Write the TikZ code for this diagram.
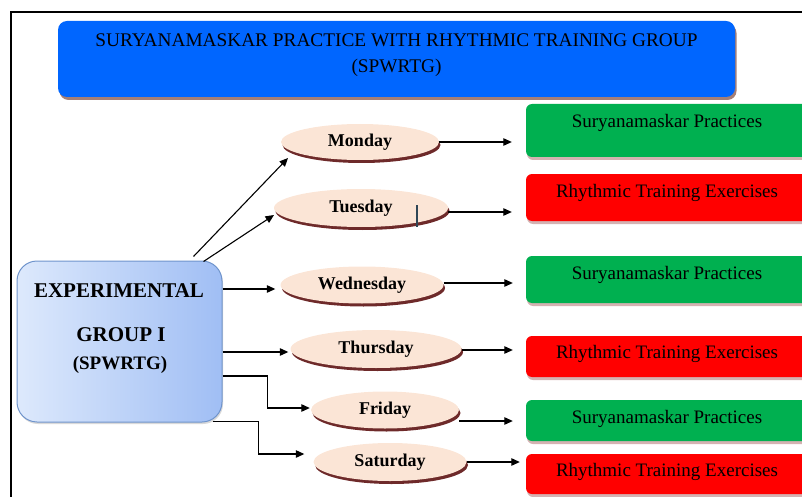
\documentclass[tikz,border=0pt]{standalone}
\usepackage{fontspec}
\setmainfont{Liberation Serif}
\usetikzlibrary{shapes.geometric,arrows.meta,shadows}
\definecolor{bannerblue}{HTML}{0066FF}
\definecolor{bannershadow}{HTML}{A57F76}
\definecolor{boxgreen}{HTML}{00B050}
\definecolor{boxred}{HTML}{FF0000}
\definecolor{boxshadow}{HTML}{D4B2B2}
\definecolor{dayfill}{HTML}{FBE5D6}
\definecolor{dayshadow}{HTML}{6E2A2A}
\definecolor{lboxleft}{HTML}{DDE9FC}
\definecolor{lboxright}{HTML}{A0BEF4}
\definecolor{lboxborder}{HTML}{6F94CC}
\definecolor{strayline}{HTML}{2F4656}
\begin{document}
\begin{tikzpicture}[x=1pt,y=-1pt,
  day/.style={ellipse, fill=dayfill, inner sep=0pt,
    font=\fontsize{18}{20}\selectfont\bfseries,
    drop shadow={shadow xshift=1.5pt, shadow yshift=-3pt, fill=dayshadow, opacity=1}},
  rbox/.style={rectangle, rounded corners=6pt, minimum width=282pt, inner sep=0pt,
    drop shadow={shadow xshift=1pt, shadow yshift=-3pt, fill=boxshadow, opacity=1}},
  gbox/.style={rbox, fill=boxgreen},
  redbox/.style={rbox, fill=boxred},
  boxtext/.style={inner sep=0pt, font=\fontsize{19}{21}\selectfont},
  ltext/.style={inner sep=0pt, font=\fontsize{21}{23}\selectfont\bfseries},
  arr/.style={-{Triangle[length=8.5pt,width=7.5pt]}, line width=1.1pt, black},
]
\useasboundingbox (0,0) rectangle (802,497);

% frame
\draw[line width=2pt] (11,497) -- (11,12) -- (803,12);

% banner
\node[rectangle, rounded corners=9pt, fill=bannerblue, minimum width=677pt, minimum height=76pt,
  drop shadow={shadow xshift=1.5pt, shadow yshift=-3pt, fill=bannershadow, opacity=1}]
  (banner) at (396.5,59) {};
\node[inner sep=0pt, align=center, font=\fontsize{19.3}{26}\selectfont]
  (bannertext) at (396.5,55) {SURYANAMASKAR PRACTICE WITH RHYTHMIC TRAINING GROUP\\(SPWRTG)};

% left box
\node[rectangle, rounded corners=20pt, left color=lboxleft, right color=lboxright,
  draw=lboxborder, line width=1pt, minimum width=205pt, minimum height=161pt,
  drop shadow={shadow xshift=1pt, shadow yshift=-2pt, fill=black, opacity=0.15}]
  (L) at (119.5,341.5) {};
\node[ltext] (l1) at (119,291) {EXPERIMENTAL};
\node[ltext] (l2) at (121,335) {GROUP I};
\node[ltext, font=\fontsize{19}{21}\selectfont\bfseries] (l3) at (120,365) {(SPWRTG)};

% days
\node[day, minimum width=158pt, minimum height=36pt] (mon) at (360,142) {Monday};
\node[day, minimum width=174pt, minimum height=38pt] (tue) at (361,208) {Tuesday};
\node[day, minimum width=163pt, minimum height=37pt] (wed) at (362,285) {Wednesday};
\node[day, minimum width=171pt, minimum height=38pt] (thu) at (376,349) {Thursday};
\node[day, minimum width=148pt, minimum height=37pt] (fri) at (385,410) {Friday};
\node[day, minimum width=153pt, minimum height=38pt] (sat) at (390,462) {Saturday};

% stray mark inside Tuesday
\draw[strayline, line width=1.2pt] ([xshift=56pt,yshift=3pt]tue.center) -- ([xshift=56pt,yshift=-19pt]tue.center);

% right boxes
\node[gbox, minimum height=53pt] (b1) at (667,130.5) {};
\node[redbox, minimum height=47pt] (b2) at (667,197.5) {};
\node[gbox, minimum height=47pt] (b3) at (667,279.5) {};
\node[redbox, minimum height=41pt] (b4) at (667,356.5) {};
\node[gbox, minimum height=41pt] (b5) at (667,420.5) {};
\node[redbox, minimum height=40pt] (b6) at (667,474) {};
\node[boxtext] (t1) at (667,123) {Suryanamaskar Practices};
\node[boxtext] (t2) at (667,193) {Rhythmic Training Exercises};
\node[boxtext] (t3) at (667,275) {Suryanamaskar Practices};
\node[boxtext] (t4) at (667,354) {Rhythmic Training Exercises};
\node[boxtext] (t5) at (667,419) {Suryanamaskar Practices};
\node[boxtext] (t6) at (667,472) {Rhythmic Training Exercises};

% day -> box arrows
\draw[arr, shorten >=14pt] (mon.east) -- (mon.east -| b1.west);
\draw[arr, shorten >=14pt] ([yshift=-4pt]tue.east) -- ([yshift=-4pt]tue.east -| b2.west);
\draw[arr, shorten >=13pt] ([yshift=2pt]wed.east) -- ([yshift=2pt]wed.east -| b3.west);
\draw[arr, shorten >=13pt] ([yshift=-1pt]thu.east) -- ([yshift=-1pt]thu.east -| b4.west);
\draw[arr, shorten >=13pt] ([yshift=-11pt]fri.east) -- ([yshift=-11pt]fri.east -| b5.west);
\draw[arr, shorten >=6pt] (sat.east) -- (sat.east -| b6.west);

% left box -> day arrows
\draw[arr] ([xshift=-29pt,yshift=4pt]L.north east) -- ([xshift=-72pt,yshift=-16pt]mon.center);
\draw[arr] ([xshift=-19pt,yshift=-1pt]L.north east) -- ([xshift=-87pt,yshift=-7pt]tue.center);
\draw[arr, shorten >=5pt] ([yshift=52.5pt]L.east) -- ([yshift=52.5pt]L.east -| wed.west);
\draw[arr, shorten >=2pt] ([yshift=-10.5pt]L.east) -- ([yshift=-10.5pt]L.east -| thu.west);
\draw[arr, shorten >=1pt] ([yshift=-34.5pt]L.east) -- ++(45,0) |- ([yshift=2pt]fri.west);
\draw[arr, shorten >=9pt] ([xshift=-10pt,yshift=1pt]L.south east) -- ++(46,0) |- ([yshift=8pt]sat.west);
\end{tikzpicture}
\end{document}
